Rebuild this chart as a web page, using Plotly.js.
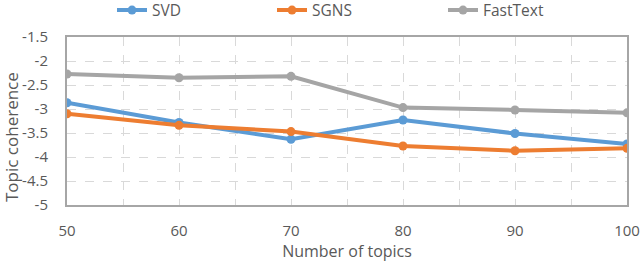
<!DOCTYPE html>
<html>
<head>
<meta charset="utf-8">
<script src="https://cdn.plot.ly/plotly-3.0.1.min.js"></script>
<style>html,body{margin:0;padding:0;background:#fff;}#chart{width:640px;height:263px;}</style>
</head>
<body>
<div id="chart"></div>
<script>
const topics = [50, 60, 70, 80, 90, 100];
const svd = [-2.87, -3.28, -3.63, -3.23, -3.51, -3.73];
const sgns = [-3.10, -3.34, -3.47, -3.77, -3.87, -3.82];
const fasttext = [-2.27, -2.35, -2.32, -2.97, -3.02, -3.08];
const yTicks = [-1.5, -2, -2.5, -3, -3.5, -4, -4.5, -5];

const FONT = '"Open Sans", "Noto Sans", sans-serif';
const TXT = '#595959';

function tr(name, y, color, leg) {
  return {
    x: topics, y: y, name: name, type: 'scatter', mode: 'lines+markers',
    line: {color: color, width: 4},
    marker: {color: color, size: 9},
    legend: leg
  };
}

const data = [
  tr('SVD', svd, '#5B9BD5', 'legend'),
  tr('SGNS', sgns, '#ED7D31', 'legend2'),
  tr('FastText', fasttext, '#A5A5A5', 'legend3')
];

function leg(px) {
  return {
    x: px / 640, xref: 'container', xanchor: 'left',
    y: 1 - 10.5 / 263, yref: 'container', yanchor: 'middle',
    orientation: 'h', bgcolor: 'rgba(0,0,0,0)',
    font: {family: FONT, size: 15.5, color: TXT}
  };
}

const layout = {
  width: 640, height: 263,
  margin: {l: 67, r: 13, t: 37, b: 58},
  paper_bgcolor: '#fff', plot_bgcolor: '#fff',
  font: {family: FONT, color: TXT, size: 15},
  showlegend: true,
  legend: leg(112),
  legend2: leg(272),
  legend3: leg(443),
  xaxis: {
    range: [50, 100], tickmode: 'array', tickvals: topics,
    showgrid: true, gridcolor: '#D9D9D9', griddash: 'dash', gridwidth: 1,
    minor: {tick0: 55, dtick: 10, showgrid: true, gridcolor: '#D9D9D9', griddash: 'dash', gridwidth: 1},
    showline: true, linecolor: '#A6A6A6', linewidth: 2, mirror: true,
    ticks: '', zeroline: false, ticklabelstandoff: 11, ticklabeloverflow: 'allow',
    tickfont: {family: FONT, size: 15, color: TXT},
    title: {text: 'Number of topics', font: {family: FONT, size: 16, color: TXT}, standoff: 5}
  },
  yaxis: {
    range: [-5, -1.5], tickmode: 'array', tickvals: yTicks, ticktext: yTicks.map(String),
    showgrid: true, gridcolor: '#D9D9D9', griddash: 'dash', gridwidth: 1,
    showline: true, linecolor: '#A6A6A6', linewidth: 2, mirror: true,
    ticks: '', zeroline: false, ticklabelstandoff: 14,
    tickfont: {family: FONT, size: 15, color: TXT}
  },
  annotations: [{
    text: 'Topic coherence', xref: 'paper', yref: 'paper',
    x: -67 / 560 + 11 / 560, y: (205 - 137) / 168, xanchor: 'center', yanchor: 'middle',
    textangle: -90, showarrow: false,
    font: {family: FONT, size: 17, color: TXT}
  }]
};

Plotly.newPlot('chart', data, layout, {displayModeBar: false, staticPlot: true});
</script>
</body>
</html>
